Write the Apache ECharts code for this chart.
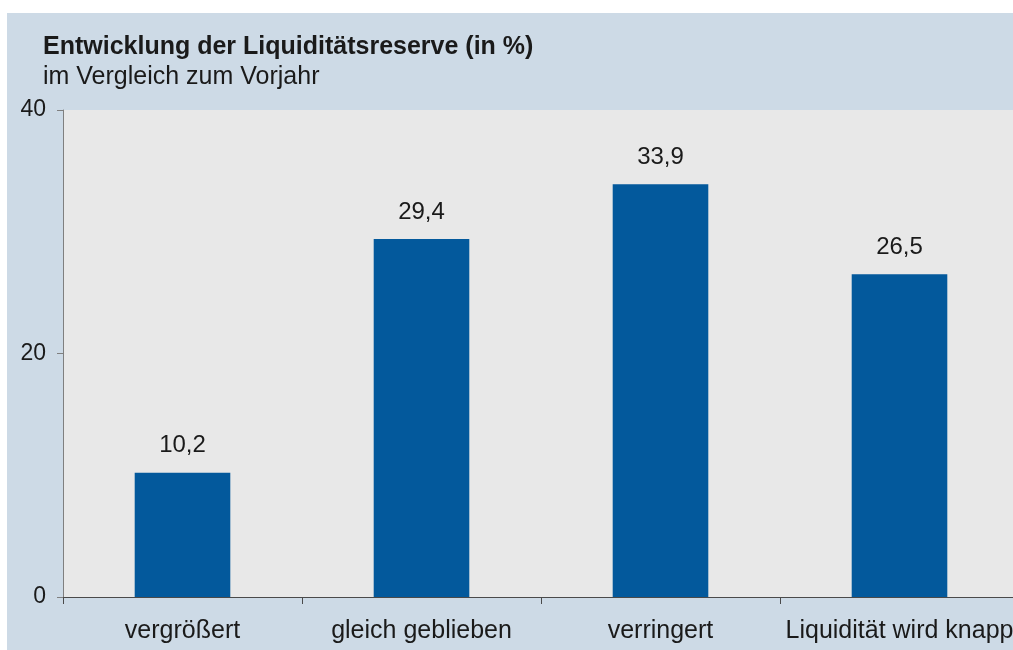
<!DOCTYPE html>
<html>
<head>
<meta charset="utf-8">
<script src="https://cdn.jsdelivr.net/npm/echarts@6/dist/echarts.min.js"></script>
<style>
  html, body { margin: 0; padding: 0; background: #fff; overflow: hidden; }
  #bg { position: absolute; left: 7px; top: 13px; width: 1010px; height: 640px; background: #cddae6; }
  #chart { position: absolute; left: 0; top: 0; width: 1019px; height: 650px; }
</style>
</head>
<body>
<div id="bg"></div>
<div id="chart"></div>
<script>
  // Werte
  var categories = ['vergrößert', 'gleich geblieben', 'verringert', 'Liquidität wird knapp'];
  var values = [10.2, 29.4, 33.9, 26.5];
  var yTicks = { min: 0, max: 40, interval: 20 };

  var chart = echarts.init(document.getElementById('chart'));
  var font = 'Liberation Sans, Arial, sans-serif';

  var option = {
    backgroundColor: 'transparent',
    animation: false,
    title: {
      text: 'Entwicklung der Liquiditätsreserve (in %)',
      subtext: 'im Vergleich zum Vorjahr',
      left: 38,
      top: 30,
      itemGap: 5,
      textStyle: { fontFamily: font, fontSize: 25, fontWeight: 'bold', color: '#1a1a1a' },
      subtextStyle: { fontFamily: font, fontSize: 25, color: '#1a1a1a' }
    },
    grid: {
      left: 63, right: 0, top: 110, bottom: 53,
      show: true, backgroundColor: '#e8e8e8', borderWidth: 0
    },
    xAxis: {
      type: 'category',
      data: categories,
      axisLine: { lineStyle: { color: '#4a4a4a', width: 1 } },
      axisTick: { show: true, length: 7, lineStyle: { color: '#4a4a4a' } },
      axisLabel: { fontFamily: font, fontSize: 25, color: '#1a1a1a', margin: 22, interval: 0 }
    },
    yAxis: {
      type: 'value',
      min: yTicks.min, max: yTicks.max, interval: yTicks.interval,
      splitLine: { show: false },
      axisLine: { show: true, lineStyle: { color: '#7f7f7f', width: 1 } },
      axisTick: { show: true, length: 6, lineStyle: { color: '#7f7f7f' } },
      axisLabel: { fontFamily: font, fontSize: 23, color: '#1a1a1a', margin: 17 }
    },
    series: [{
      type: 'bar',
      data: values,
      barWidth: '40%',
      itemStyle: { color: '#03599c' },
      label: {
        show: true,
        position: 'top',
        distance: 15,
        fontFamily: font,
        fontSize: 24,
        color: '#1a1a1a',
        formatter: function (p) { return String(p.value).replace('.', ','); }
      }
    }]
  };
  chart.setOption(option);
</script>
</body>
</html>
